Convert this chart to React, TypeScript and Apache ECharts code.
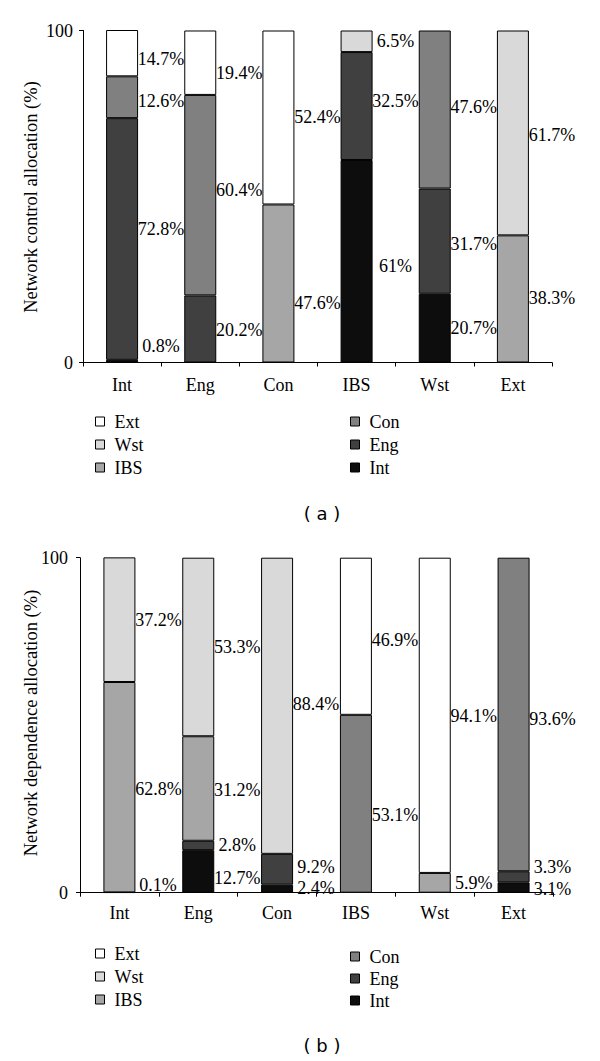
import React, { useEffect, useRef } from 'react';
import * as echarts from 'echarts';

const categories = ['Int', 'Eng', 'Con', 'IBS', 'Wst', 'Ext'];
const seriesNames = ['Int', 'Eng', 'Con', 'IBS', 'Wst', 'Ext'];
const seriesColors = ['#0d0d0d', '#404040', '#808080', '#a6a6a6', '#d9d9d9', '#ffffff'];

// (a) Network control allocation (%), one array per stacked component
const controlInt = [0.8, null, null, 61, 20.7, null];
const controlEng = [72.8, 20.2, null, 32.5, 31.7, null];
const controlCon = [12.6, 60.4, null, null, 47.6, null];
const controlIBS = [null, null, 47.6, null, null, 38.3];
const controlWst = [null, null, null, 6.5, null, 61.7];
const controlExt = [14.7, 19.4, 52.4, null, null, null];

// (b) Network dependence allocation (%)
const dependInt = [0.1, 12.7, 2.4, null, null, 3.1];
const dependEng = [null, 2.8, 9.2, null, null, 3.3];
const dependCon = [null, null, null, 53.1, null, 93.6];
const dependIBS = [62.8, 31.2, null, null, 5.9, null];
const dependWst = [37.2, 53.3, 88.4, null, null, null];
const dependExt = [null, null, null, 46.9, 94.1, null];

const yMin = 0;
const yMax = 100;

const titleA = 'Network control allocation (%)';
const titleB = 'Network dependence allocation (%)';

// label vertical nudges (styling only)
const controlLabelDy: Record<string, number[]> = {
  Int: [-15, 0, 0, 5, 0, 0],
  Eng: [-10, 1, 0, -5, 3, 0],
  Con: [4, -5, 0, 0, -3, 0],
  IBS: [0, 0, 20, 0, 0, -1],
  Wst: [0, 0, 0, 0, 0, 2],
  Ext: [6, 10, 0, 0, 0, 0],
};
const dependLabelDy: Record<string, number[]> = {
  Int: [-7.5, 7, -0.5, 0, 0, 1],
  Eng: [0, 0, -2, 0, 0, -9.5],
  Con: [0, 0, 0, 11, 0, 5],
  IBS: [2, 1, 0, 0, 0, 0],
  Wst: [0, 0, -1.5, 0, 0, 0],
  Ext: [0, 0, 0, 4, 1, 0],
};

const SERIF = 'Liberation Serif';

export default function App() {
  const ref = useRef<HTMLDivElement>(null);

  useEffect(() => {
    if (!ref.current) return;
    const chart = echarts.init(ref.current, null, { renderer: 'svg' });

    const control = [controlInt, controlEng, controlCon, controlIBS, controlWst, controlExt];
    const depend = [dependInt, dependEng, dependCon, dependIBS, dependWst, dependExt];

    const makeSeries = (panel: number, values: (number | null)[][], dy: Record<string, number[]>) =>
      values.map((vals, si) => ({
        type: 'bar',
        name: seriesNames[si],
        xAxisIndex: panel,
        yAxisIndex: panel,
        stack: 'panel' + panel,
        barWidth: 32,
        itemStyle: { color: seriesColors[si], borderColor: '#000', borderWidth: 1 },
        label: {
          show: true,
          position: [55, '50%'],
          align: 'center',
          verticalAlign: 'middle',
          formatter: '{c}%',
          fontSize: 18,
          fontFamily: SERIF,
          fontWeight: 'normal',
          color: '#000',
        },
        data: vals.map((v, ci) =>
          v == null
            ? null
            : {
                value: v,
                label: { offset: [0, dy[seriesNames[si]][ci]], fontFamily: SERIF, fontSize: 18 },
              }
        ),
      }));

    const xAxisBase = (grid: number, margin: number) => ({
      type: 'category',
      gridIndex: grid,
      data: categories,
      axisLine: { lineStyle: { color: '#000', width: 1 } },
      axisTick: { show: true, length: 4, lineStyle: { color: '#000' } },
      axisLabel: { interval: 0, fontSize: 18, fontFamily: SERIF, color: '#000', margin },
    });

    const yAxisBase = (grid: number, margin: number) => ({
      type: 'value',
      gridIndex: grid,
      min: yMin,
      max: yMax,
      interval: 100,
      axisLine: { show: true, lineStyle: { color: '#000', width: 1 } },
      axisTick: { show: true, length: 4, lineStyle: { color: '#000' } },
      axisLabel: { fontSize: 18, fontFamily: SERIF, color: '#000', margin },
      splitLine: { show: false },
    });

    const legendBase = (data: string[], left: number, top: number, gap: number) => ({
      data,
      orient: 'vertical',
      left,
      top,
      itemWidth: 9,
      itemHeight: 9,
      itemGap: gap,
      icon: 'rect',
      selectedMode: false,
      itemStyle: { borderColor: '#000', borderWidth: 1 },
      textStyle: { fontSize: 18, fontFamily: SERIF, color: '#000', padding: [0, 0, 0, 5] },
    });

    const captionText = (text: string, x: number, y: number) => ({
      type: 'text',
      x,
      y,
      style: {
        text,
        fontSize: 18,
        fontFamily: 'DejaVu Sans',
        fill: '#000',
        align: 'center',
        verticalAlign: 'middle',
      },
    });

    const axisTitle = (text: string, x: number, y: number) => ({
      type: 'text',
      x,
      y,
      rotation: Math.PI / 2,
      style: {
        text,
        fontSize: 18.5,
        fontFamily: SERIF,
        fill: '#000',
        align: 'center',
        verticalAlign: 'middle',
      },
    });

    chart.setOption({
      animation: false,
      backgroundColor: '#fff',
      textStyle: { fontFamily: SERIF },
      grid: [
        { left: 83, top: 30.5, width: 469, height: 332, containLabel: false },
        { left: 80, top: 557.7, width: 473, height: 335, containLabel: false },
      ],
      xAxis: [xAxisBase(0, 13), xAxisBase(1, 11)],
      yAxis: [yAxisBase(0, 10), yAxisBase(1, 12)],
      legend: [
        legendBase(['Ext', 'Wst', 'IBS'], 90, 407.5, 5),
        legendBase(['Con', 'Eng', 'Int'], 345, 407.5, 5),
        legendBase(['Ext', 'Wst', 'IBS'], 90, 939.5, 5),
        legendBase(['Con', 'Eng', 'Int'], 345, 942.5, 4),
      ],
      graphic: [
        axisTitle(titleA, 31, 197),
        axisTitle(titleB, 31, 723),
        captionText('( a )', 322, 513),
        captionText('( b )', 322, 1045),
      ],
      series: [...makeSeries(0, control, controlLabelDy), ...makeSeries(1, depend, dependLabelDy)],
    });

    return () => chart.dispose();
  }, []);

  return (
    <div
      ref={ref}
      style={{ position: 'fixed', left: 0, top: 0, width: 600, height: 1061, background: '#fff' }}
    />
  );
}
